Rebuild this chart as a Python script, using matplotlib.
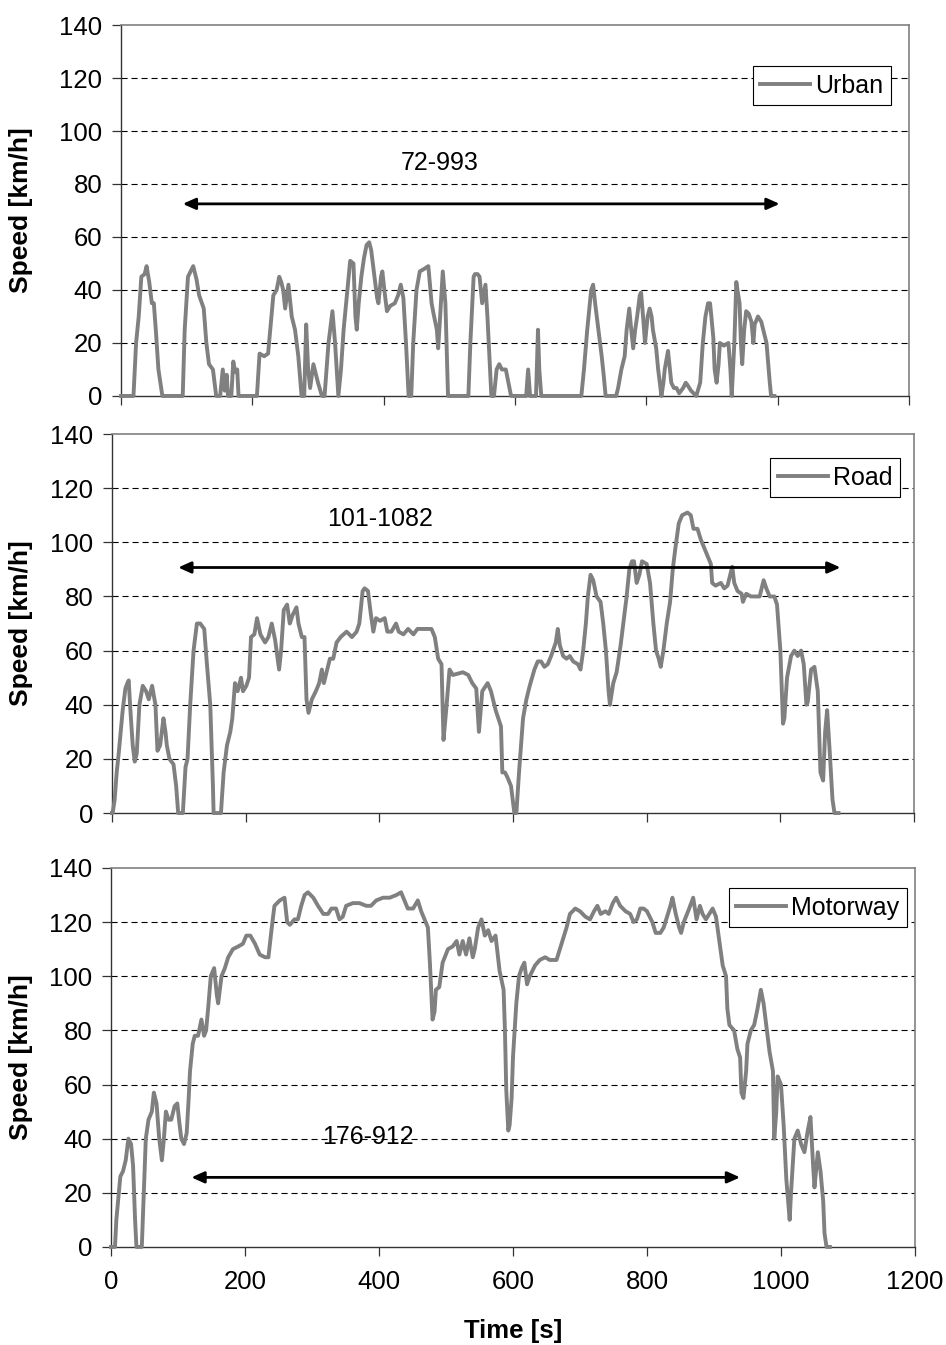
import numpy as np
import matplotlib
matplotlib.use("Agg")
import matplotlib.pyplot as plt

plt.rcParams['font.family'] = ['Liberation Sans', 'DejaVu Sans']

# speed traces: (time [s], speed [km/h])
urban = [(0,0),(19,0),(23,20),(27,30),(31,45),(36,46),(39,49),(43,43),(47,35),(50,35),(53,25),(57,10),(63,0),
         (94,0),(97,25),(102,45),(106,47),(110,49),(115,44),(119,38),(126,33),(130,20),(134,12),(140,10),(145,0),
         (151,0),(155,10),(158,2),(161,8),(163,0),(168,0),(171,13),(174,9),(177,10),(179,0),
         (207,0),(211,16),(218,15),(224,16),(232,38),(237,40),(241,45),(244,43),(247,40),(250,33),(255,42),(260,30),
         (265,25),(270,15),(275,0),(279,0),(282,27),(285,10),(288,3),(293,12),(297,8),(300,5),(306,0),(310,0),
         (316,20),(322,32),(326,20),(331,0),(335,10),(339,25),(344,38),(349,51),(354,50),(357,30),(359,25),(362,35),
         (366,45),(370,52),(374,57),(378,58),(381,55),(386,45),(390,37),(392,35),(396,45),(398,47),(402,38),(405,32),
         (410,34),(417,35),(422,38),(426,42),(430,37),(434,20),(438,0),(442,0),(445,20),(450,40),(455,47),(462,48),
         (468,49),(473,35),(476,31),(481,25),(483,18),(486,30),(490,47),(494,35),(498,0),
         (529,0),(532,20),(537,45),(539,46),(543,46),(546,45),(550,35),(555,42),(558,30),(564,0),(568,0),(572,10),
         (576,12),(580,10),(586,10),(594,0),(617,0),(620,10),(623,0),(632,0),(635,25),(637,10),(640,0),
         (701,0),(705,10),(710,25),(716,40),(719,42),(722,35),(727,25),(732,15),(735,8),(738,0),
         (754,0),(757,3),(762,10),(767,15),(770,25),(774,33),(777,25),(780,18),(783,25),(786,30),(790,38),(792,39),
         (795,30),(798,20),(802,30),(805,33),(808,30),(810,25),(815,18),(818,10),(823,0),(826,5),(828,10),(833,17),
         (836,10),(838,5),(842,3),(846,3),(850,1),(856,3),(860,5),(863,4),(868,2),(872,1),(876,0),
         (882,5),(886,20),(890,30),(894,35),(897,35),(899,30),(902,22),(904,10),(907,5),(910,12),(912,20),(918,19),
         (925,20),(928,10),(930,0),(934,20),(937,43),(940,38),(942,35),(944,20),(946,12),(949,25),(952,32),(956,31),
         (960,28),(963,20),(965,27),(970,30),(975,28),(978,25),(983,20),(988,5),(990,0),(995,0)]

road = [(0,0),(1,0),(4,5),(7,15),(10,22),(13,30),(16,38),(20,46),(23,48),(25,49),(27,40),(31,25),(34,19),(37,22),
        (41,40),(46,47),(51,45),(55,42),(60,47),(65,40),(68,23),(72,25),(77,35),(80,30),(82,25),(86,20),(92,18),
        (96,10),(99,0),(106,0),(110,17),(113,20),(117,40),(122,60),(127,70),(132,70),(138,68),(142,55),(147,40),
        (151,10),(152,0),(163,0),(167,15),(172,25),(177,30),(180,35),(184,48),(188,45),(193,50),(196,45),(201,47),
        (205,50),(208,65),(213,66),(217,72),(222,66),(229,63),(234,65),(239,70),(244,64),(250,53),(253,60),(257,75),
        (262,77),(266,70),(270,73),(276,76),(279,70),(284,65),(288,65),(291,42),(294,37),(299,42),(305,45),(310,48),
        (314,53),(317,48),(321,52),(326,57),(331,57),(336,63),(342,65),(351,67),(359,65),(366,67),(370,70),(375,82),
        (378,83),(383,82),(387,74),(391,67),(395,72),(401,71),(408,72),(412,67),(418,67),(425,70),(429,67),(436,66),
        (443,68),(451,66),(457,68),(466,68),(478,68),(483,65),(488,57),(493,55),(496,27),(500,38),(505,53),(510,51),
        (525,52),(533,51),(539,48),(545,46),(549,30),(554,45),(562,48),(567,45),(574,38),(582,32),(584,15),(588,15),
        (592,13),(597,10),(602,0),(605,0),(609,15),(615,35),(620,42),(625,47),(632,53),(637,56),(642,56),(647,54),
        (652,55),(657,58),(664,63),(667,68),(670,62),(675,58),(680,57),(685,58),(690,56),(697,55),(701,53),(705,60),
        (709,70),(712,80),(716,88),(720,86),(725,80),(731,78),(735,70),(739,60),(743,45),(745,40),(750,48),(755,52),
        (761,62),(765,70),(770,80),(774,90),(778,93),(781,93),(785,85),(789,88),(793,93),(800,92),(805,85),(810,70),
        (814,60),(818,57),(821,54),(825,60),(830,70),(835,78),(839,90),(843,98),(848,107),(853,110),(861,111),
        (866,110),(870,105),(876,105),(881,101),(886,98),(891,95),(896,92),(898,85),(903,84),(911,85),(916,83),
        (921,84),(925,88),(928,91),(931,85),(936,82),(942,81),(944,78),(949,81),(956,80),(962,80),(969,80),(975,86),
        (979,83),(984,80),(991,80),(995,77),(1000,60),(1004,33),(1006,35),(1010,50),(1016,58),(1021,60),(1026,58),
        (1031,60),(1035,55),(1039,40),(1041,41),(1046,53),(1051,54),(1056,45),(1060,15),(1064,12),(1067,30),
        (1070,38),(1074,22),(1078,5),(1081,0),(1087,0)]

motorway = [(0,0),(6,0),(8,10),(11,18),(14,26),(18,28),(22,32),(26,40),(30,38),(33,30),(36,10),(38,0),(46,0),
            (49,20),(52,40),(56,47),(61,50),(64,57),(68,53),(72,40),(76,32),(79,40),(82,50),(86,47),(90,47),(95,52),
            (99,53),(102,46),(105,40),(109,38),(113,42),(116,55),(118,65),(122,75),(125,78),(130,78),(135,84),
            (139,78),(142,80),(145,88),(149,100),(154,103),(158,93),(160,90),(165,100),(170,103),(175,107),(182,110),
            (190,111),(197,112),(202,115),(208,115),(215,112),(222,108),(230,107),(235,107),(240,118),(244,126),
            (252,128),(259,129),(263,120),(267,119),(274,121),(279,121),(284,126),(289,130),(294,131),(302,129),
            (309,126),(317,123),(324,123),(329,125),(336,125),(341,121),(346,122),(351,126),(361,127),(371,127),
            (381,126),(388,126),(396,128),(406,129),(416,129),(426,130),(433,131),(438,128),(443,125),(451,125),
            (458,128),(463,124),(468,121),(473,118),(476,105),(480,84),(483,87),(485,95),(490,96),(495,105),(503,110),
            (510,111),(516,113),(520,108),(525,113),(530,108),(535,114),(540,107),(543,110),(548,118),(553,121),
            (558,115),(563,117),(568,113),(574,115),(580,102),(586,95),(588,80),(590,58),(593,43),(595,45),(598,55),
            (600,70),(605,90),(609,100),(613,103),(617,105),(621,97),(625,100),(633,104),(640,106),(648,107),
            (655,106),(665,106),(670,110),(675,114),(680,118),(685,123),(693,125),(700,124),(708,122),(715,121),
            (721,124),(726,126),(731,123),(738,124),(743,123),(749,127),(754,129),(760,126),(768,124),(775,123),
            (780,120),(785,121),(790,125),(795,125),(800,124),(808,120),(813,116),(820,116),(825,118),(830,122),
            (835,126),(838,129),(843,123),(848,118),(851,116),(855,120),(863,125),(869,129),(874,121),(879,126),
            (883,123),(888,121),(893,123),(898,125),(903,122),(908,113),(913,104),(918,100),(920,88),(923,82),
            (930,80),(935,73),(939,70),(941,57),(944,55),(948,65),(950,75),(955,80),(960,82),(965,88),(970,95),
            (974,90),(978,82),(983,72),(988,65),(990,40),(993,50),(995,63),(1000,60),(1004,45),(1008,25),(1013,10),
            (1015,20),(1020,40),(1025,43),(1030,38),(1035,35),(1040,43),(1044,48),(1048,30),(1050,22),(1055,35),
            (1059,28),(1063,17),(1065,5),(1068,0),(1073,0)]

names = ["Urban", "Road", "Motorway"]
ranges = ["72-993", "101-1082", "176-912"]
y_ticks = [0, 20, 40, 60, 80, 100, 120, 140]
x_ticks = [0, 200, 400, 600, 800, 1000, 1200]

# arrow (t_start, t_end, speed) and label (t, speed) per panel
arrows = [(94, 1003, 72.5), (99, 1090, 90.7), (120, 939, 25.7)]
labels_at = [(486, 88), (401, 108.6), (384, 40.6)]

fig = plt.figure(figsize=(9.46, 13.45), dpi=100)
rects = [[0.1279, 0.7056, 0.8330, 0.2758],
         [0.1184, 0.3955, 0.8478, 0.2818],
         [0.1173, 0.0729, 0.8499, 0.2818]]
leg_anchor = [(0.977, 0.889), (0.9825, 0.9367), (0.990, 0.947)]
ylab_x = [-0.1117, -0.0985, -0.097]

for i, data in enumerate([urban, road, motorway]):
    ax = fig.add_axes(rects[i])
    arr = np.array(data, dtype=float)
    ax.plot(arr[:, 0], arr[:, 1], color='#808080', lw=2.8, label=names[i],
            clip_on=False, zorder=4)
    ax.set_xlim(0, 1200)
    ax.set_ylim(0, 140)
    ax.set_yticks(y_ticks)
    ax.set_xticks(x_ticks)
    for g in y_ticks[1:-1]:
        ax.axhline(g, color='black', lw=0.8, dashes=(5.5, 3.5), zorder=1)
    for s in ['top', 'right']:
        ax.spines[s].set_color('#808080')
        ax.spines[s].set_linewidth(1.2)
    for s in ['left', 'bottom']:
        ax.spines[s].set_color('#333333')
        ax.spines[s].set_linewidth(1.0)
    ax.tick_params(axis='y', direction='out', length=6.5, width=0.9, pad=7,
                   labelsize=18.5, color='#333333')
    ax.tick_params(axis='x', direction='out', length=6.5, width=0.9, pad=10,
                   labelsize=18.5, color='#333333')
    if i < 2:
        ax.tick_params(axis='x', labelbottom=False)
    ax.set_ylabel("Speed [km/h]", fontsize=19, fontweight='bold')
    ax.yaxis.set_label_coords(ylab_x[i], 0.5)

    t0, t1, yv = arrows[i]
    ax.annotate('', xy=(t1, yv), xytext=(t0, yv),
                arrowprops=dict(arrowstyle='<|-|>,head_length=0.38,head_width=0.17',
                                color='black', lw=2.0, mutation_scale=20,
                                shrinkA=0, shrinkB=0), zorder=5)
    ax.text(labels_at[i][0], labels_at[i][1], ranges[i], ha='center', va='center',
            fontsize=18, zorder=6)

    leg = ax.legend(loc='upper right', bbox_to_anchor=leg_anchor[i], frameon=True,
                    fancybox=False, edgecolor='black', framealpha=1, borderaxespad=0,
                    handlelength=2.0, handletextpad=0.2, borderpad=0.3, fontsize=18)
    leg.get_frame().set_linewidth(0.8)
    if i == 2:
        ax.set_xlabel("Time [s]", fontsize=18.5, fontweight='bold')
        ax.xaxis.set_label_coords(0.5, -0.19)

fig.savefig("out.png", dpi=100)
